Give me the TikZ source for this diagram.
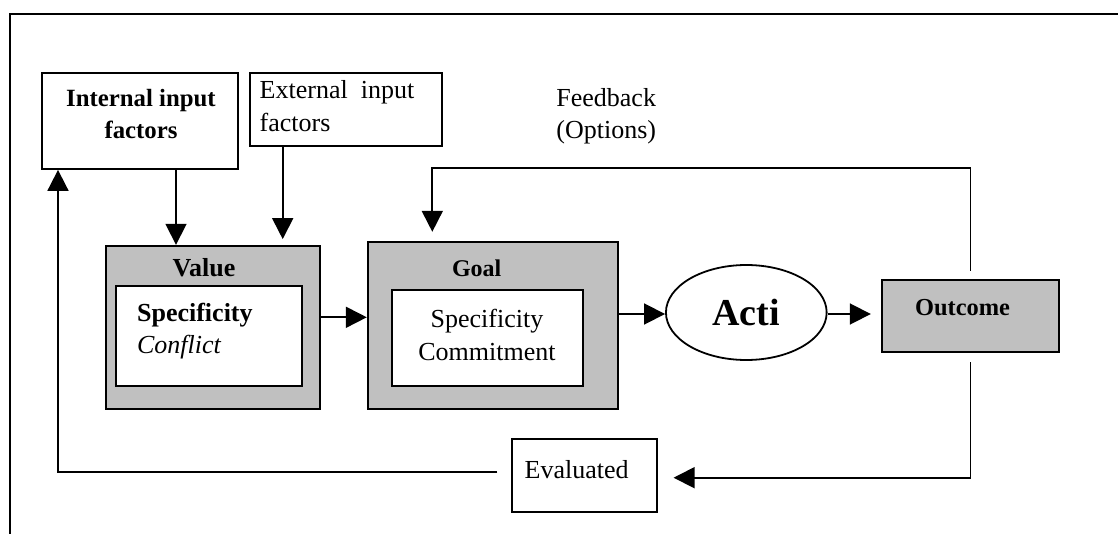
\documentclass[tikz,border=0pt]{standalone}
\usepackage{fontspec}
\setmainfont{Liberation Serif}
\usepackage{tikz}
\usetikzlibrary{arrows.meta,fit,shapes.geometric}
\definecolor{boxgray}{HTML}{C0C0C0}
\tikzset{
  box/.style={draw, line width=0.9pt, inner sep=0pt},
  shaded/.style={box, fill=boxgray},
  arr/.style={line width=0.9pt, -{Triangle[length=10.5pt,width=10.5pt]}},
  txt/.style={font=\fontsize{13}{16.5}\selectfont, inner sep=0pt},
}
\begin{document}
\begin{tikzpicture}[x=0.5pt, y=-0.5pt]
    \useasboundingbox (0,0) rectangle (1118,534);
    \draw[line width=1pt] (1118,14) -- (10,14) -- (10,534);
    \node [box, fit={(41.7,73.3) (238.3,169)}] (internal) {};
    \node [txt, align=center, font=\fontsize{12.4}{16}\bfseries] (internal-t) at (141,114) {Internal input\\factors};
    \node [box, fit={(250,73.3) (442.3,145.7)}] (external) {};
    \node [txt, align=left, anchor=west] (external-t) at (259.3,106.5) {External\ \ input\\factors};
    \node [txt, align=left, anchor=west, font=\fontsize{13}{16}\selectfont] (feedback) at (556,116) {Feedback\\(Options)};
    \node [shaded, fit={(106,245.7) (320,409.3)}] (value) {};
    \node [box, fill=white, fit={(115.7,286) (302.3,385.7)}] (value-in) {};
    \node [txt, font=\fontsize{13}{16}\bfseries] (value-t) at (204,268) {Value};
    \node [txt, align=left, anchor=west, font=\fontsize{13}{16}\selectfont] (value-s) at (136.7,331) {\textbf{Specificity}\\\textit{Conflict}};
    \node [shaded, fit={(367.7,241.7) (618.3,409.3)}] (goal) {};
    \node [box, fill=white, fit={(391.7,290) (583.3,385.7)}] (goal-in) {};
    \node [txt, font=\fontsize{12}{15}\bfseries] (goal-t) at (476.7,268) {Goal};
    \node [txt, align=center, font=\fontsize{13}{16.7}\selectfont] (goal-s) at (487,335) {Specificity\\Commitment};
    \node [box, ellipse, minimum width=80.35pt, minimum height=47.5pt, font=\fontsize{19}{22}\bfseries] (acti) at (746.3,312.5) {Acti\hspace{11pt}};
    \node [shaded, fit={(882.3,280) (1058.7,351.7)}] (outcome) {};
    \node [txt, font=\fontsize{12.2}{14}\bfseries] (outcome-t) at (962.5,308) {Outcome};
    \node [box, fit={(511.7,439.3) (656.7,511.7)}] (evaluated) {};
    \node [txt] (evaluated-t) at (576.7,470) {Evaluated};
    \draw [arr] (internal.south -| 176,0) -- (value.north -| 176,0);
    \draw [arr, shorten >=2.85pt] (external.south -| 282.7,0) -- (value.north -| 282.7,0);
    \draw [arr] (value.east |- 0,317.3) -- (goal.west |- 0,317.3);
    \draw [arr] (goal.east |- 0,314) -- (acti.west |- 0,314);
    \draw [arr, shorten >=5.3pt] (acti.east |- 0,314) -- (outcome.west |- 0,314);
    \draw [arr, shorten <=4.2pt, shorten >=4.5pt] (outcome.north) -- ++(0,-110.7) -| (goal.north -| 432.3,0);
    \draw [arr, shorten <=4.7pt, shorten >=8pt] (outcome.south) |- (evaluated.east |- 0,477.7);
    \draw [arr, shorten <=6.7pt] (evaluated.west |- 0,471.7) -| (internal.south -| 58,0);
\end{tikzpicture}
\end{document}
